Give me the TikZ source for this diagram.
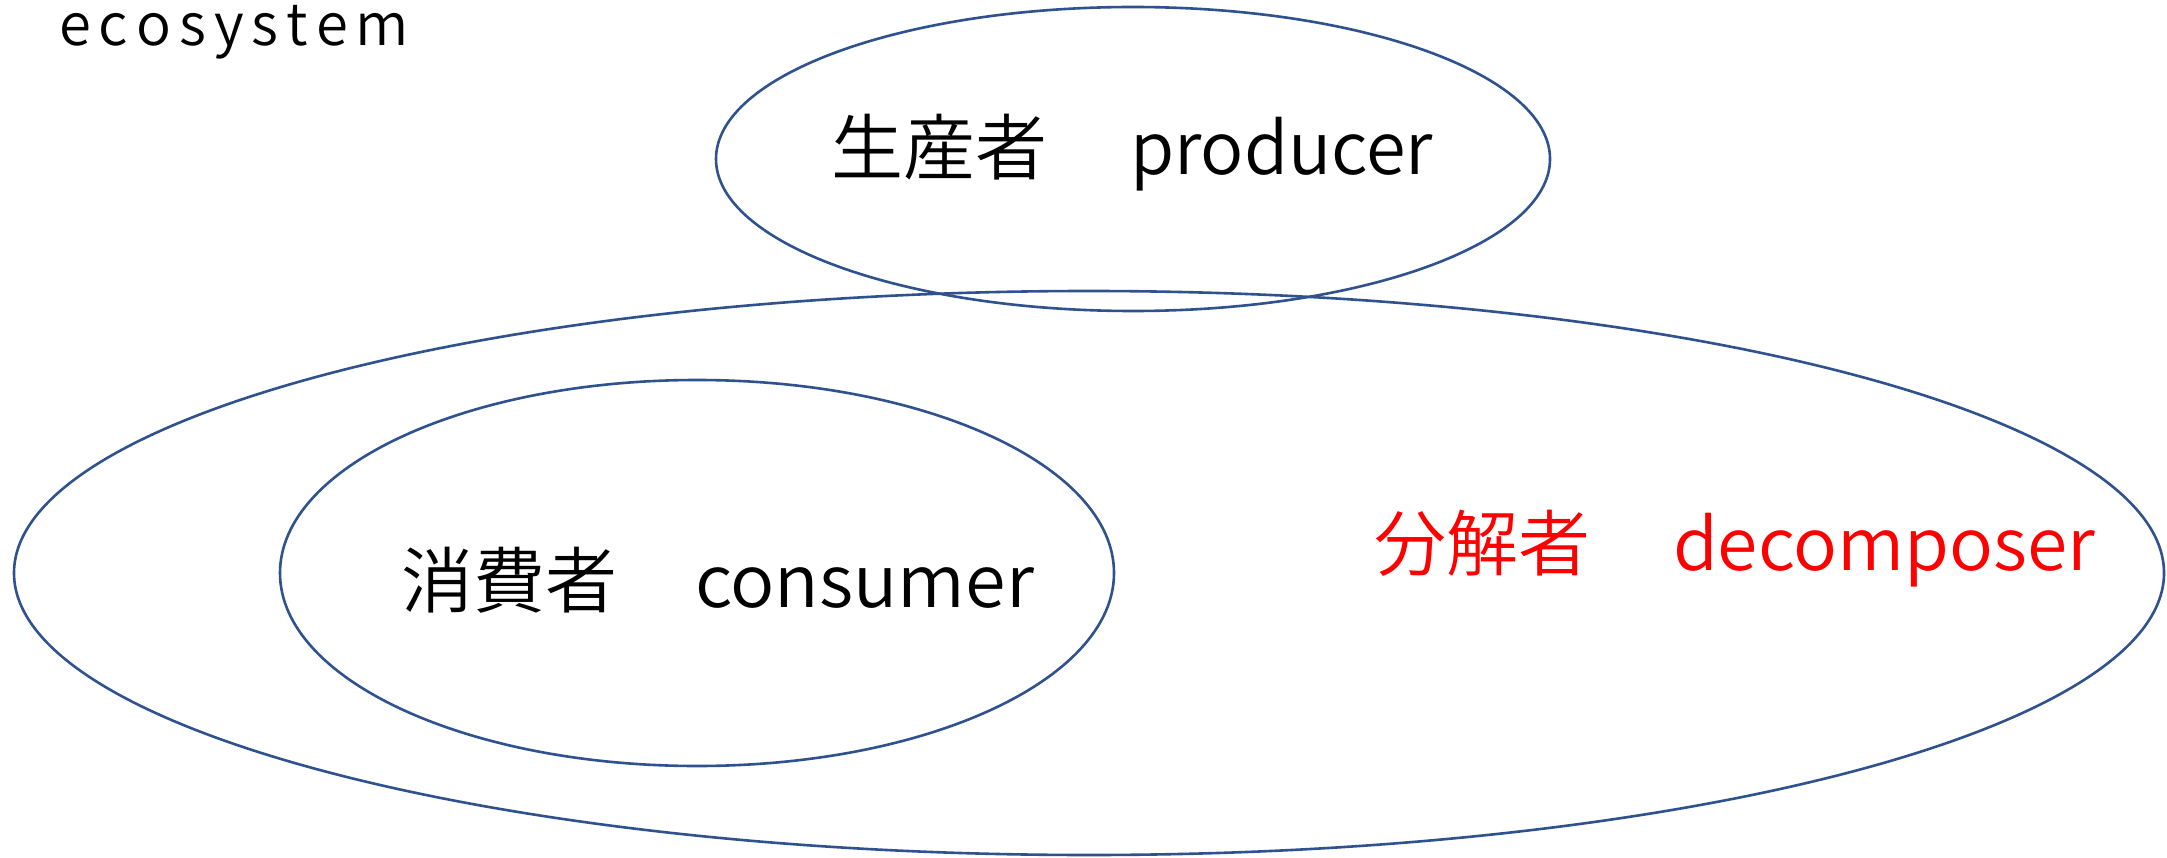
\documentclass[tikz,border=0pt]{standalone}
\usepackage{fontspec}
\usepackage{graphicx}
\IfFontExistsTF{Noto Sans CJK JP DemiLight}
  {\setmainfont{Noto Sans CJK JP DemiLight}}
  {\IfFontExistsTF{Noto Sans CJK JP Light}
    {\setmainfont{Noto Sans CJK JP Light}}
    {\setmainfont{Noto Sans CJK JP}}}
\definecolor{ellblue}{RGB}{47,82,143}
\definecolor{decred}{RGB}{255,0,0}
\tikzset{
  ring/.style={draw=ellblue, line width=2.6pt},
  lab/.style={inner sep=0pt, outer sep=0pt, anchor=base west, font=\fontsize{72}{80}\selectfont},
}
\begin{document}
\begin{tikzpicture}[x=1pt,y=-1pt]
\useasboundingbox (0,0) rectangle (2167,858);
\fill[white] (0,0) rectangle (2167,858);
% ellipses
\draw[ring] (1089,573) ellipse [x radius=1075, y radius=282];
\draw[ring] (697,573) ellipse [x radius=417, y radius=193];
\draw[ring] (1133,159) ellipse [x radius=417, y radius=152];
% labels
\node[inner sep=0pt, anchor=base west, font=\fontsize{58}{64}\selectfont] (eco) at (59,46)
  {e\kern8pt c\kern8pt o\kern8pt s\kern8pt y\kern8pt s\kern8pt t\kern8pt e\kern8pt m};
\node[lab] (prod) at (831,175)
  {\makebox[299pt][l]{生産者}\resizebox{303pt}{\height}{producer}};
\node[lab] (cons) at (401,607)
  {\makebox[294pt][l]{消費者}\resizebox{339pt}{\height}{consumer}};
\node[lab, text=decred] (deco) at (1374,570)
  {\makebox[299pt][l]{分解者}\resizebox{422pt}{\height}{decomposer}};
\end{tikzpicture}
\end{document}
